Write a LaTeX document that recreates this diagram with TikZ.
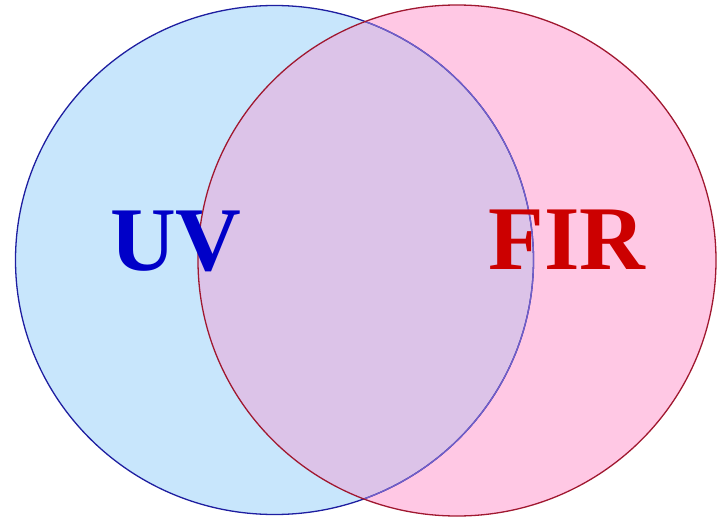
\documentclass[tikz,border=0pt]{standalone}
\usepackage{fontspec}
\setmainfont{Liberation Serif}
\definecolor{uvfill}{RGB}{200,230,252}
\definecolor{firfill}{RGB}{255,200,228}
\definecolor{bothfill}{RGB}{220,195,232}
\definecolor{uvline}{RGB}{30,30,160}
\definecolor{uvlinein}{RGB}{115,95,200}
\definecolor{firline}{RGB}{160,24,48}
\definecolor{uvtext}{RGB}{0,0,200}
\definecolor{firtext}{RGB}{204,0,0}
\begin{document}
\begin{tikzpicture}[x=1pt, y=-1pt,
    label/.style={font=\fontsize{91}{91}\selectfont\bfseries, anchor=base, inner sep=0pt}]
  \useasboundingbox (0,0) rectangle (726,519);
  % centres of the two sets
  \coordinate (uvc) at (274.5,260);
  \coordinate (firc) at (457,260.5);
  % fills
  \fill[uvfill] (uvc) ellipse [x radius=259, y radius=254.5];
  \fill[firfill] (firc) ellipse [x radius=259, y radius=255.5];
  \begin{scope}
    \clip (uvc) ellipse [x radius=259, y radius=254.5];
    \fill[bothfill] (firc) ellipse [x radius=259, y radius=255.5];
  \end{scope}
  % outlines
  \draw[uvline, line width=1.3pt] (uvc) ellipse [x radius=259, y radius=254.5];
  \begin{scope}
    \clip (firc) ellipse [x radius=259, y radius=255.5];
    \draw[uvlinein, line width=1.3pt] (uvc) ellipse [x radius=259, y radius=254.5];
  \end{scope}
  \draw[firline, line width=1.3pt] (firc) ellipse [x radius=259, y radius=255.5];
  % labels
  \node[label, text=uvtext] (uv) at (176,270) {UV};
  \node[label, text=firtext] (fir) at (567,269) {FIR};
\end{tikzpicture}
\end{document}
